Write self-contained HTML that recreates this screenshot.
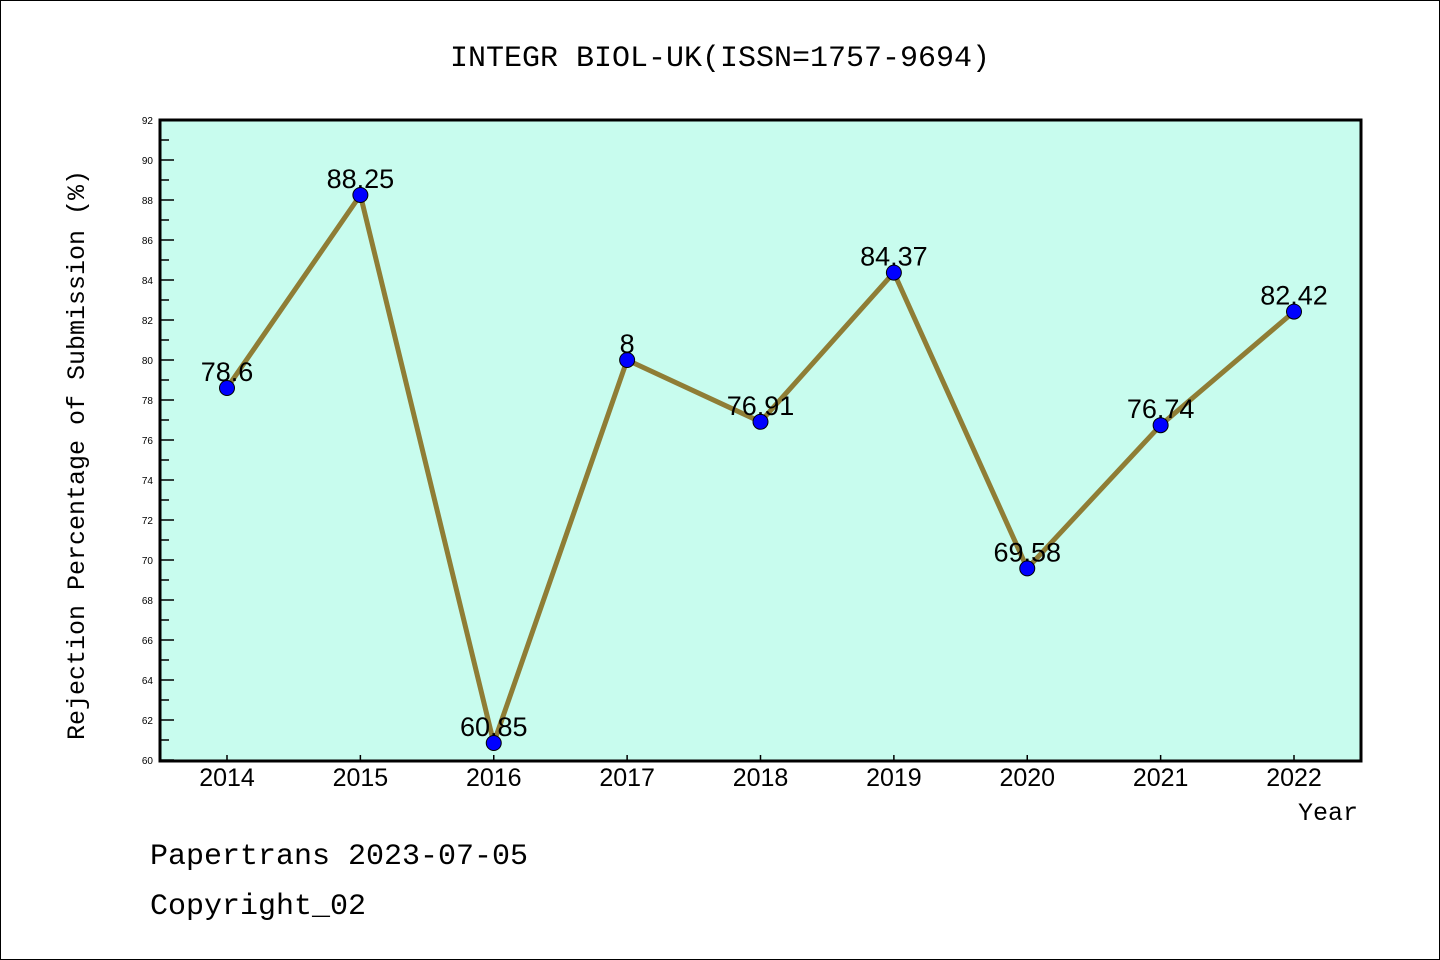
<!DOCTYPE html>
<html><head><meta charset="utf-8"><style>
html,body{margin:0;padding:0;background:#fff}
svg{display:block}
</style></head><body>
<svg width="1440" height="960" xmlns="http://www.w3.org/2000/svg">
<rect x="0.5" y="0.5" width="1439" height="959" fill="#fff" stroke="#000"/>
<text x="720" y="66" text-anchor="middle" font-family="Liberation Mono, monospace" font-size="30">INTEGR BIOL-UK(ISSN=1757-9694)</text>
<rect x="160" y="120" width="1201" height="641" fill="#c8fcee"/>
<g id="yaxis"></g>
<g id="xaxis"></g>
<g id="series"></g>
<rect x="160" y="120" width="1201" height="641" fill="none" stroke="#000" stroke-width="3"/>
<text transform="translate(84,455) rotate(-90)" text-anchor="middle" font-family="Liberation Mono, monospace" font-size="25">Rejection Percentage of Submission (%)</text>
<text x="1358" y="820" text-anchor="end" font-family="Liberation Mono, monospace" font-size="25">Year</text>
<text x="150" y="864" font-family="Liberation Mono, monospace" font-size="30">Papertrans 2023-07-05</text>
<text x="150" y="914" font-family="Liberation Mono, monospace" font-size="30">Copyright_02</text>
</svg>
<script>
const years = ['2014','2015','2016','2017','2018','2019','2020','2021','2022'];
const values = [78.6, 88.25, 60.85, 80, 76.91, 84.37, 69.58, 76.74, 82.42];
const valueLabels = ['78.6','88.25','60.85','8','76.91','84.37','69.58','76.74','82.42'];
const yTicks = [60,62,64,66,68,70,72,74,76,78,80,82,84,86,88,90,92];
{
const NS='http://www.w3.org/2000/svg';
const yMin=60,yMax=92,plotTop=120,plotBot=760;
function ys(v){return plotBot-(v-yMin)/(yMax-yMin)*(plotBot-plotTop);}
const x0=227,x1=1294;
function xs(i){return x0+i*(x1-x0)/(years.length-1);}
function mk(t,a){const e=document.createElementNS(NS,t);for(const k in a)e.setAttribute(k,a[k]);return e;}
const ya=document.getElementById('yaxis');
yTicks.forEach(v=>{
  const t=mk('line',{x1:160,x2:174,y1:ys(v),y2:ys(v),stroke:'#000','stroke-width':1.5});
  
  
  ya.appendChild(t);
  if(v<yMax){const m=mk('line',{x1:160,x2:169,y1:ys(v+1),y2:ys(v+1),stroke:'#000','stroke-width':1.5});
  
  
  ya.appendChild(m);}
  const l=mk('text',{x:153,y:ys(v)+4,'text-anchor':'end','font-family':'Liberation Sans, sans-serif','font-size':10});
  
  
  l.textContent=v;ya.appendChild(l);
});
const xa=document.getElementById('xaxis');
years.forEach((y,i)=>{
  const t=mk('line',{x1:xs(i),x2:xs(i),y1:761,y2:755,stroke:'#000','stroke-width':1.5});
  
  
  xa.appendChild(t);
  const l=mk('text',{x:xs(i),y:786,'text-anchor':'middle','font-family':'Liberation Sans, sans-serif','font-size':25});
  
  
  l.textContent=y;xa.appendChild(l);
});
const s=document.getElementById('series');
const pl=mk('polyline',{points:values.map((v,i)=>xs(i)+','+ys(v)).join(' '),fill:'none',stroke:'#8f7d35','stroke-width':5,'stroke-linejoin':'round'});


s.appendChild(pl);
values.forEach((v,i)=>{
  const c=mk('circle',{cx:xs(i),cy:ys(v),r:7.5,fill:'#0000ff',stroke:'#000','stroke-width':1});
  
  
  s.appendChild(c);
  const l=mk('text',{x:xs(i),y:ys(v)-7,'text-anchor':'middle','font-family':'Liberation Sans, sans-serif','font-size':27});
  
  
  l.textContent=valueLabels[i];s.appendChild(l);
});
}
</script>
</body></html>
